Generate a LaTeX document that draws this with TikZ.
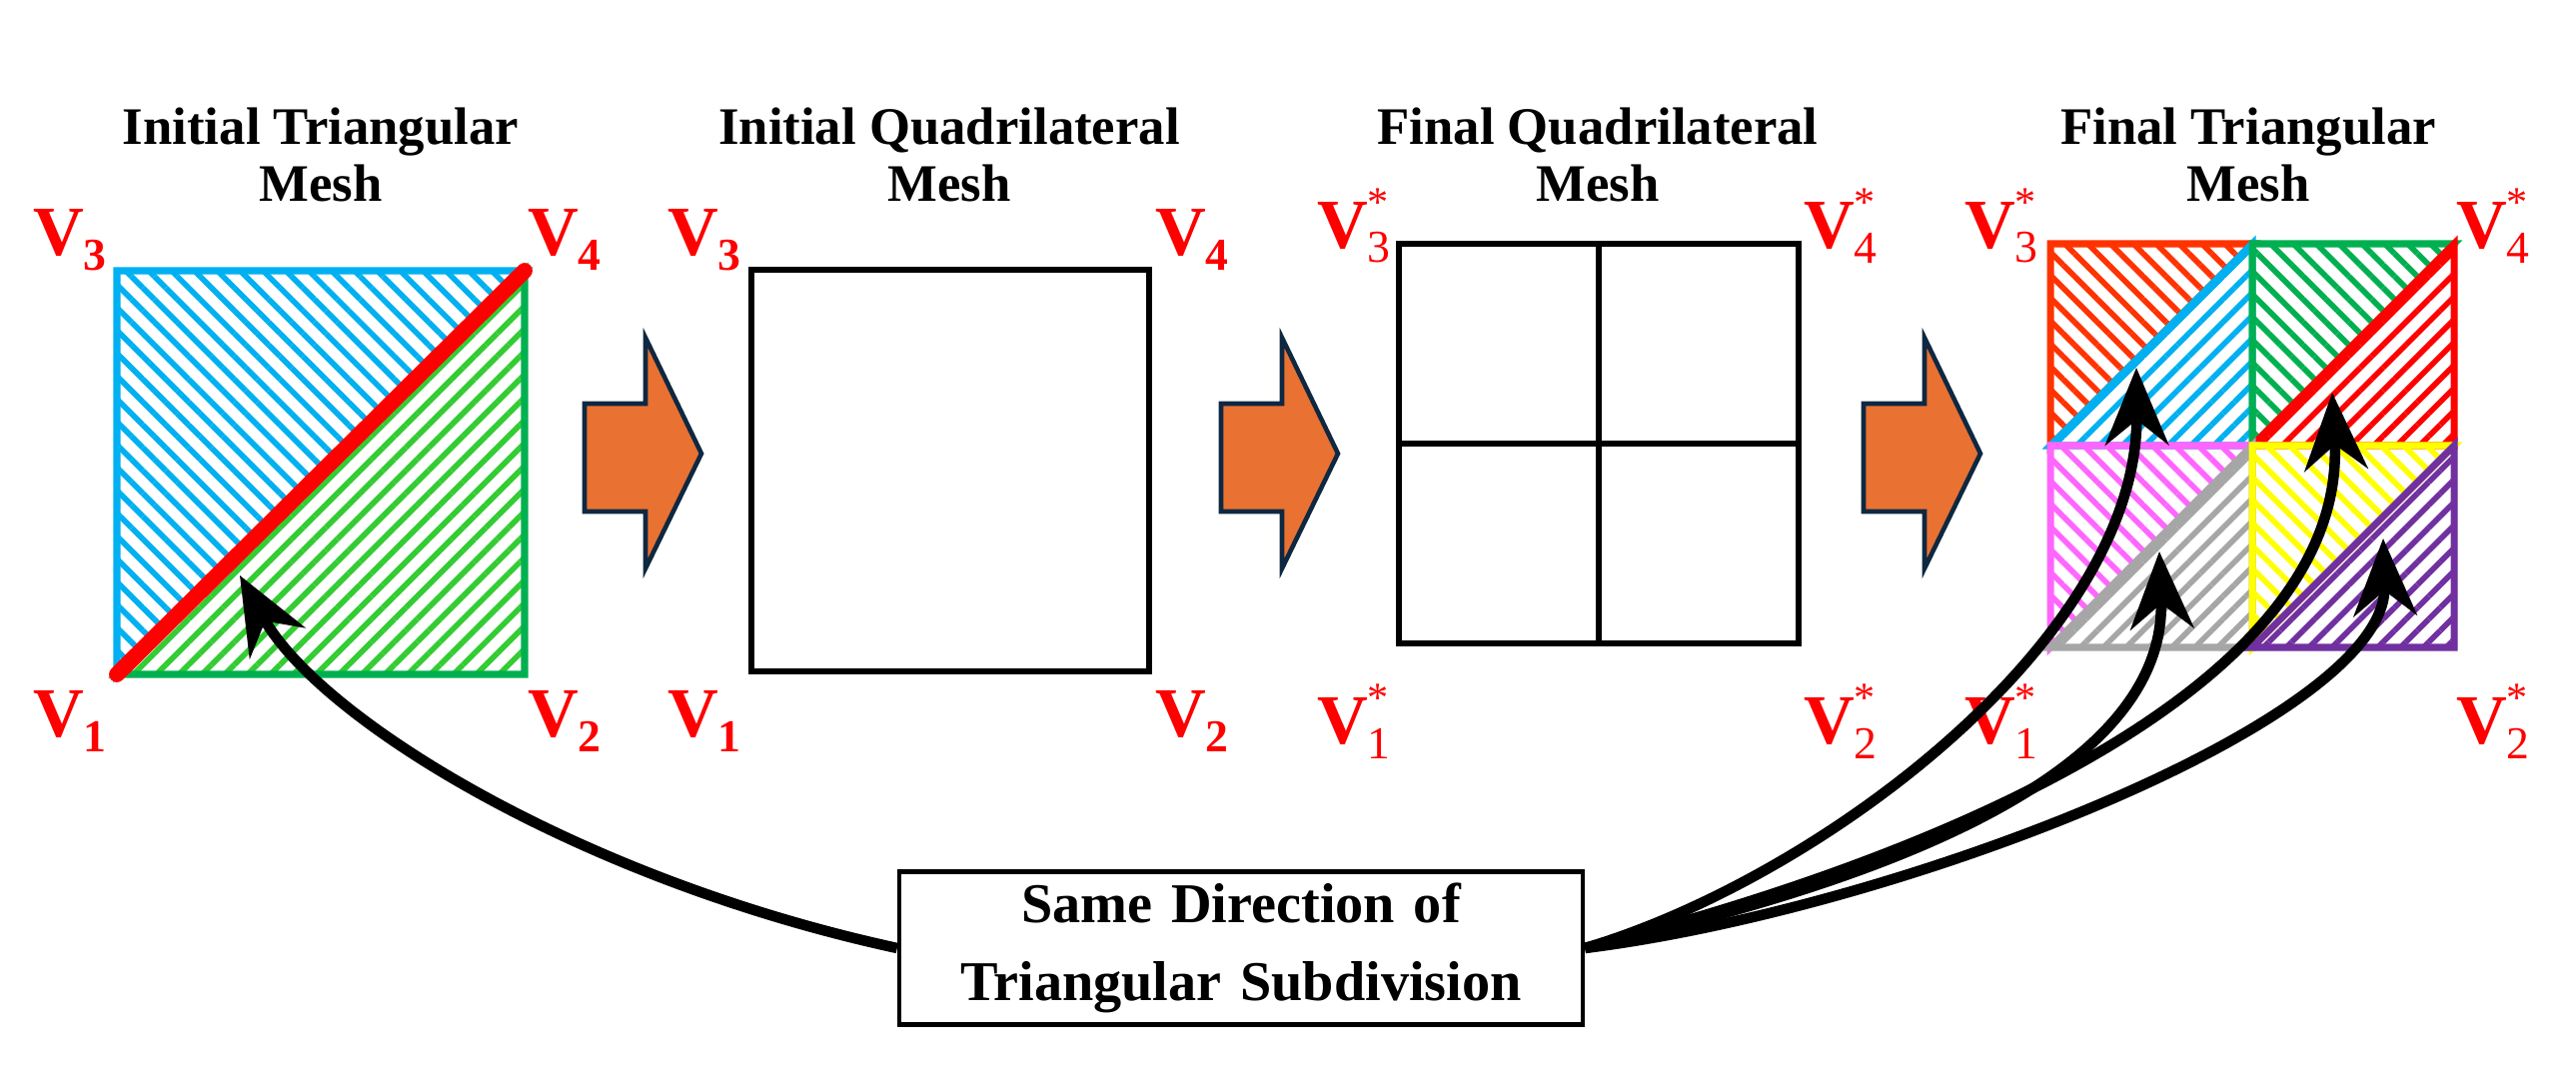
\documentclass[tikz,border=0pt]{standalone}
\usepackage{fontspec}
\setmainfont{Liberation Serif}
\usetikzlibrary{patterns.meta,arrows.meta}
\definecolor{cBlue}{HTML}{00B0F0}
\definecolor{cGreen}{HTML}{00B050}
\definecolor{cLGreen}{HTML}{33CC33}
\definecolor{cRed}{HTML}{FF0000}
\definecolor{cOrRed}{HTML}{FF3300}
\definecolor{cPink}{HTML}{FF66FF}
\definecolor{cGray}{HTML}{A6A6A6}
\definecolor{cYellow}{HTML}{FFFF00}
\definecolor{cPurple}{HTML}{7030A0}
\definecolor{cOrange}{HTML}{E97132}
\definecolor{cNavy}{HTML}{0E2841}
\tikzset{
  title/.style={font=\fontsize{15}{16}\selectfont\bfseries, align=center},
  vlab/.style={text=cRed, font=\fontsize{20}{22}\selectfont\bfseries, inner sep=0pt},
  sq/.style={draw=black, line width=1.7pt},
  nw/.style={pattern={Lines[angle=-45,distance=4.6pt,line width=1.6pt]}, pattern color=#1, draw=#1, line width=2pt, line join=miter},
  ne/.style={pattern={Lines[angle=45,distance=4.6pt,line width=1.6pt]}, pattern color=#1, draw=#1, line width=2pt, line join=miter},
  bigarrow/.style={fill=cOrange, draw=cNavy, line width=1.3pt, line join=miter},
  conn/.style={draw=black, line width=3pt, -{Stealth[length=22pt,width=18pt]}},
}
\newcommand{\Vb}[1]{V\raisebox{-0.45ex}{\fontsize{13}{14}\selectfont #1}}
\newcommand{\Vs}[1]{V\makebox[0pt][l]{\raisebox{1.0ex}{\fontsize{12}{13}\selectfont\mdseries *}}\raisebox{-0.45ex}{\fontsize{13}{14}\selectfont\mdseries #1}}
\begin{document}
\begin{tikzpicture}[x=0.01cm,y=-0.01cm]
\useasboundingbox (0,0) rectangle (2578,1083);
% titles
\node[title] (t1) at (321,155) {Initial Triangular\\Mesh};
\node[title] (t2) at (950,155) {Initial Quadrilateral\\Mesh};
\node[title] (t3) at (1599,155) {Final Quadrilateral\\Mesh};
\node[title] (t4) at (2250,155) {Final Triangular\\Mesh};
% panel 1
\path[nw=cBlue] (117,271) -- (525,271) -- (117,675) -- cycle;
\path[ne=cLGreen,draw=cGreen] (525,271) -- (525,675) -- (117,675) -- cycle;
\draw[cRed, line width=4.5pt, line cap=round] (117,675) -- (525,271);
\node[vlab] (a3) at (70,240) {\Vb{3}};
\node[vlab] (a4) at (565,240) {\Vb{4}};
\node[vlab] (a1) at (70,722) {\Vb{1}};
\node[vlab] (a2) at (565,722) {\Vb{2}};
% arrows
\foreach \dx/\nm in {0/ar1,637/ar2,1280/ar3}{
  \path[bigarrow] (585+\dx,404) -- (646+\dx,404) -- (646+\dx,338) -- (702+\dx,454) -- (646+\dx,569) -- (646+\dx,512) -- (585+\dx,512) -- cycle;
}
% panel 2
\draw[sq] (752,270) rectangle (1150,672);
\node[vlab] (b3) at (705,240) {\Vb{3}};
\node[vlab] (b4) at (1193,240) {\Vb{4}};
\node[vlab] (b1) at (705,722) {\Vb{1}};
\node[vlab] (b2) at (1193,722) {\Vb{2}};
% panel 3
\draw[sq] (1400,244) rectangle (1800,644);
\draw[sq] (1600,244) -- (1600,644) (1400,444) -- (1800,444);
\node[vlab] (c3) at (1355,226) {\Vs{3}};
\node[vlab] (c4) at (1842,226) {\Vs{4}};
\node[vlab] (c1) at (1355,722) {\Vs{1}};
\node[vlab] (c2) at (1842,722) {\Vs{2}};
% panel 4
\foreach \xa/\ya/\up/\lo in {2052/244/cOrRed/cBlue, 2254/244/cGreen/cRed, 2052/446/cPink/cGray, 2254/446/cYellow/cPurple}{
  \path[nw=\up] (\xa,\ya) -- (\xa+202,\ya) -- (\xa,\ya+202) -- cycle;
  \path[ne=\lo] (\xa+202,\ya) -- (\xa+202,\ya+202) -- (\xa,\ya+202) -- cycle;
}
\node[vlab] (d3) at (2003,226) {\Vs{3}};
\node[vlab] (d4) at (2495,226) {\Vs{4}};
\node[vlab] (d1) at (2003,722) {\Vs{1}};
\node[vlab] (d2) at (2495,722) {\Vs{2}};
% box
\node[draw=black, line width=1.3pt, align=center,
      font=\fontsize{16}{22}\selectfont\bfseries, text width=6.6cm, minimum height=1.48cm] (box) at (1242,949)
  {Same Direction of\\Triangular Subdivision};
\coordinate (e0) at (240,576);
\coordinate (e1) at (2138,368);
\coordinate (e2) at (2161,552);
\coordinate (e3) at (2334,393);
\coordinate (e4) at (2385,539);
\draw[conn] (box.west) .. controls (580,880) and (320,720) .. (e0);
\draw[conn] (box.east) .. controls (1820,880) and (2140,640) .. (e1);
\draw[conn] (box.east) .. controls (1800,900) and (2170,800) .. (e2);
\draw[conn] (box.east) .. controls (1900,870) and (2350,700) .. (e3);
\draw[conn] (box.east) .. controls (1900,910) and (2390,720) .. (e4);
\end{tikzpicture}
\end{document}
